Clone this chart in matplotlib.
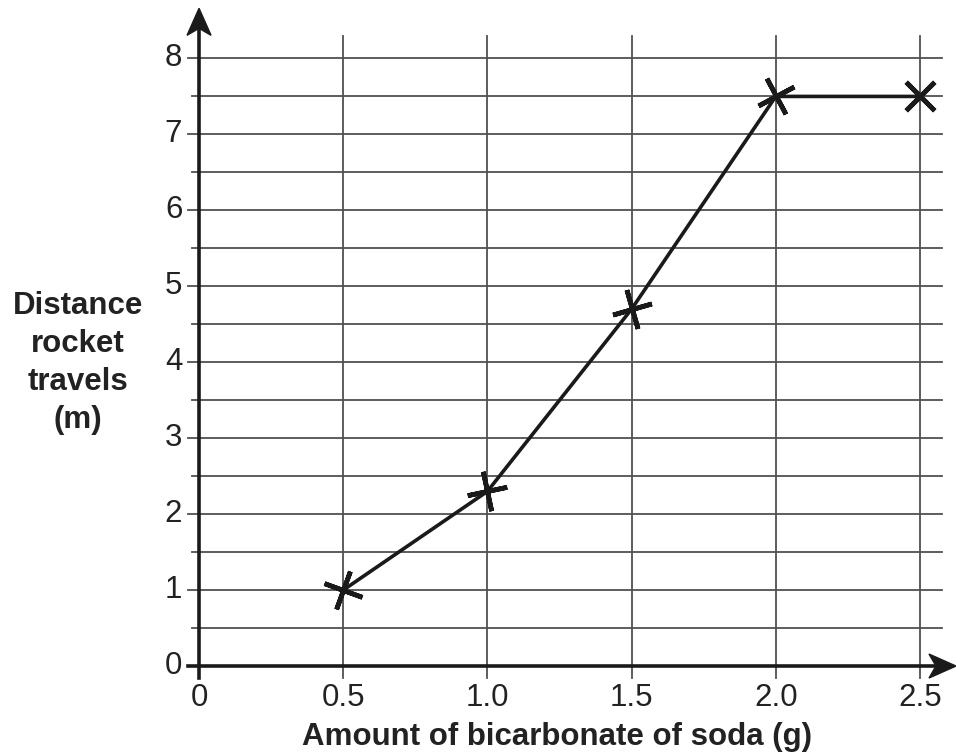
import matplotlib
matplotlib.use("Agg")
import matplotlib.pyplot as plt
from matplotlib.patches import Polygon

plt.rcParams['font.family'] = ['Liberation Sans', 'DejaVu Sans']

# %% Data
soda_g = [0.5, 1.0, 1.5, 2.0, 2.5]
distance_m = [1.0, 2.3, 4.7, 7.5, 7.5]
cross_tilt = [-20, 12, 16, 28, 45]   # hand drawn crosses, each a bit rotated
x_ticks = [0, 0.5, 1.0, 1.5, 2.0, 2.5]
x_tick_labels = ["0", "0.5", "1.0", "1.5", "2.0", "2.5"]
y_ticks = [0, 1, 2, 3, 4, 5, 6, 7, 8]
y_minor = [0.5, 1.5, 2.5, 3.5, 4.5, 5.5, 6.5, 7.5]

# %% Figure
fig = plt.figure(figsize=(9.56, 7.56), dpi=100)
ax = fig.add_axes([0.2082, 0.119, 0.7918, 0.870])
ax.set_xlim(0, 2.625)
ax.set_ylim(0, 8.66)
ax.axis("off")

# pixel -> data scale, used for the arrow heads only
px_x = 2.625 / 757
px_y = 8.66 / 658

grid_col = "#505050"
ink = "#1a1a1a"
# vertical grid lines (they also act as the x ticks)
for xv in x_ticks[1:]:
    ax.plot([xv, xv], [-0.16, 8.30], color=grid_col, lw=1.3, clip_on=False, zorder=1)
# horizontal grid lines, integers stick out a bit more on the left
for yv in y_ticks[1:]:
    ax.plot([-0.038, 2.576], [yv, yv], color=grid_col, lw=1.3, clip_on=False, zorder=1)
for yv in y_minor:
    ax.plot([-0.025, 2.576], [yv, yv], color=grid_col, lw=1.3, clip_on=False, zorder=1)

# axes lines
ax.plot([0, 0], [-0.16, 8.4], color=ink, lw=2.6, clip_on=False, zorder=2)
ax.plot([-0.038, 2.55], [0, 0], color=ink, lw=2.6, clip_on=False, zorder=2)
# arrow heads with a notched back
y_tip = 8.66
ax.add_patch(Polygon([(0, y_tip), (12 * px_x, y_tip - 27 * px_y), (0, y_tip - 20 * px_y),
                      (-12 * px_x, y_tip - 27 * px_y)], closed=True, color=ink,
                     clip_on=False, zorder=3))
x_tip = 2.625
ax.add_patch(Polygon([(x_tip, 0), (x_tip - 27 * px_x, 12 * px_y), (x_tip - 20 * px_x, 0),
                      (x_tip - 27 * px_x, -12 * px_y)], closed=True, color=ink,
                     clip_on=False, zorder=3))

# tick labels
for yv in y_ticks:
    ax.text(-0.058, yv, str(yv), ha="right", va="center", fontsize=22.5, color="#222222")
for xv, lab in zip(x_ticks, x_tick_labels):
    ax.text(xv, -0.42, lab, ha="center", va="center", fontsize=22.5, color="#222222")

# data
ax.plot(soda_g, distance_m, color=ink, lw=2.6, clip_on=False, zorder=4)
for xv, yv, ang in zip(soda_g, distance_m, cross_tilt):
    ax.plot(xv, yv, linestyle="none", marker=(4, 2, ang), markersize=29,
            markeredgewidth=3.4, markeredgecolor=ink, clip_on=False, zorder=5)

# axis titles
fig.text(78 / 956, 1 - 363 / 756, "Distance\nrocket\ntravels\n(m)", ha="center", va="center",
         fontsize=22.5, fontweight="bold", linespacing=1.35, color="#222222")
fig.text(557 / 956, 1 - 745 / 756, "Amount of bicarbonate of soda (g)", ha="center",
         va="baseline", fontsize=22.5, fontweight="bold", color="#222222")

fig.savefig("out.png", dpi=100)
